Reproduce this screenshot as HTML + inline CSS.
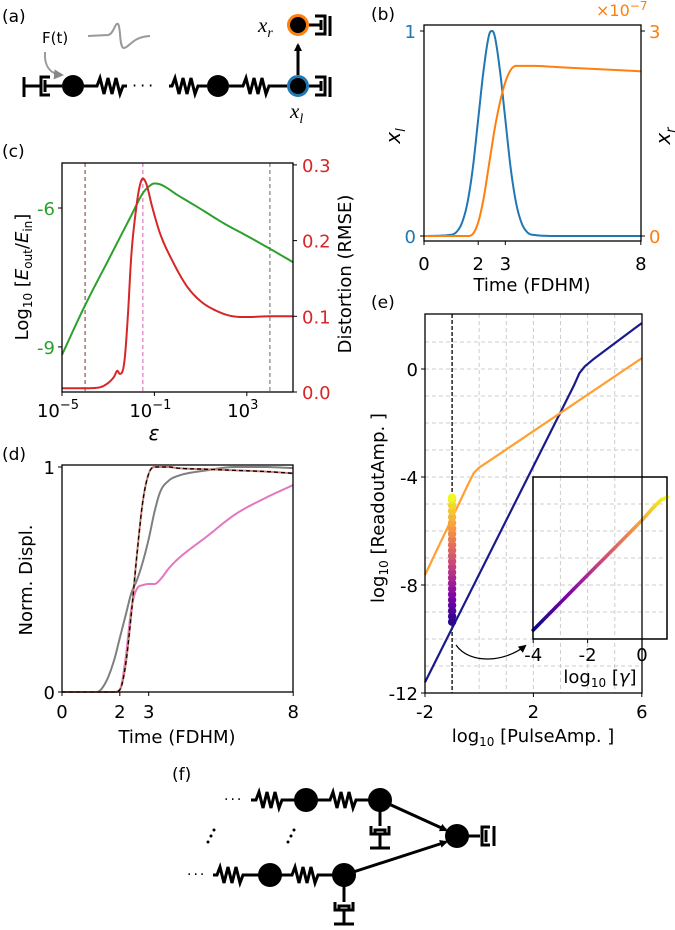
<!DOCTYPE html>
<html><head><meta charset="utf-8">
<style>
html,body{margin:0;padding:0;background:#fff;}
svg{display:block;font-family:"DejaVu Sans","Liberation Sans",sans-serif;}
</style></head>
<body>
<svg id="fig" width="675" height="930" viewBox="0 0 675 930" xmlns="http://www.w3.org/2000/svg">
<defs>
<marker id="ah" markerWidth="8" markerHeight="8" refX="6" refY="4" orient="auto" markerUnits="userSpaceOnUse"><path d="M0,0 L8,4 L0,8 z" fill="#000"/></marker>
<marker id="ahg" markerWidth="10" markerHeight="10" refX="8" refY="5" orient="auto" markerUnits="userSpaceOnUse"><path d="M0,0 L10,5 L0,10 z" fill="#888"/></marker>
</defs>

<!-- ================= PANEL A ================= -->
<g>
<text x="2" y="22" font-size="17">(a)</text>
<text x="42" y="43" font-size="15">F(t)</text>
<path d="M88,36 L108,35 C114,34 115,22 118,24 C121,27 119,48 124,48 C130,47 132,37 150,36" fill="none" stroke="#999" stroke-width="2"/>
<path d="M45,52 C44,66 50,74 62,75" fill="none" stroke="#999" stroke-width="2" marker-end="url(#ahg)"/>
<g stroke="#000" stroke-width="3" fill="none">
<path d="M24,77 V97 M24,86 H40 M50,77 H41 V95 H50 M45,80 V92 M45,86 H62"/>
<path d="M84,86 H97 L100,78 L104,94 L108,78 L112,94 L116,78 L120,94 L123,86 H127"/>
<path d="M169,86 H172 L175,78 L179,94 L183,78 L187,94 L191,78 L195,94 L198,86 H207"/>
<path d="M229,86 H243 L246,78 L250,94 L254,78 L258,94 L262,78 L266,94 L269,86 H287"/>
<path d="M309,86 H321 M315,77 H325 V95 H315 M321,81 V91 M330,77 V97"/>
<path d="M309,25 H321 M315,16 H325 V34 H315 M321,20 V30 M330,16 V36"/>
<path d="M298,75 V45" marker-end="url(#ah)"/>
</g>
<text x="132" y="91" font-size="16" letter-spacing="3">···</text>
<circle cx="73" cy="86" r="11" fill="#000"/>
<circle cx="218" cy="86" r="11" fill="#000"/>
<circle cx="298" cy="86" r="9.5" fill="#000" stroke="#1f77b4" stroke-width="3"/>
<circle cx="298" cy="25" r="9.5" fill="#000" stroke="#ff7f0e" stroke-width="3"/>
<text x="258" y="32" style="font-size:21px;font-family:'Liberation Serif',serif;font-style:italic">x<tspan style="font-size:14px" dy="5">r</tspan></text>
<text x="290" y="118" style="font-size:21px;font-family:'Liberation Serif',serif;font-style:italic">x<tspan style="font-size:14px" dy="5">l</tspan></text>
</g>

<!-- ================= PANEL F ================= -->
<g>
<text x="172" y="780" font-size="17">(f)</text>
<text x="224" y="804" font-size="14" letter-spacing="2">···</text>
<text x="187" y="879" font-size="14" letter-spacing="2">···</text>
<g fill="#000">
<circle cx="208" cy="842" r="1.5"/><circle cx="211" cy="836" r="1.5"/><circle cx="214" cy="830" r="1.5"/>
<circle cx="288" cy="842" r="1.5"/><circle cx="291" cy="836" r="1.5"/><circle cx="294" cy="830" r="1.5"/>
</g>
<g stroke="#000" stroke-width="3" fill="none">
<path d="M251,800 H256 L259,792 L263,808 L267,792 L271,808 L275,792 L279,808 L282,800 H300"/>
<path d="M312,800 H330 L333,792 L337,808 L341,792 L345,808 L349,792 L353,808 L356,800 H372"/>
<path d="M380,800 V826 M371,826 V834 H389 V826 M375,834 V830 H385 V834 M380,834 V848 M370,848 H390"/>
<path d="M213,875 H217 L220,867 L224,883 L228,867 L232,883 L236,867 L240,883 L243,875 H262"/>
<path d="M276,875 H292 L295,867 L299,883 L303,867 L307,883 L311,867 L315,883 L318,875 H336"/>
<path d="M344,875 V902 M335,902 V910 H353 V902 M339,910 V906 H349 V910 M344,910 V924 M334,924 H354"/>
<path d="M380,800 L446,830" marker-end="url(#ah)"/>
<path d="M344,875 L446,842" marker-end="url(#ah)"/>
<path d="M462,836 H480 M490,827 H482 V845 H490 M486,830 V842 M494,826 V846"/>
</g>
<circle cx="306" cy="800" r="12" fill="#000"/>
<circle cx="380" cy="800" r="12" fill="#000"/>
<circle cx="270" cy="875" r="12" fill="#000"/>
<circle cx="344" cy="875" r="12" fill="#000"/>
<circle cx="457" cy="836" r="12" fill="#000"/>
</g>

<g id="charts"></g>
</svg>

<script>
// ---------- data: panel b ----------
const tB = [0,1,1.2,1.4,1.6,1.8,2.0,2.2,2.4,2.5,2.6,2.8,3.0,3.2,3.4,3.6,3.8,4,5,8];
const xlB = [0,0.006,0.02,0.064,0.16,0.33,0.57,0.81,0.98,1,0.98,0.81,0.57,0.33,0.16,0.064,0.02,0.006,0,0];
const xrB = [0,0,0,0,0,0.03,0.2,0.55,1.05,1.3,1.55,1.95,2.25,2.43,2.49,2.49,2.49,2.49,2.47,2.41];
const ticksBx = [0,2,3,8];
// ---------- data: panel c ----------
const epsG = [-5,-4,-3,-2,-1.5,-1.2,-1,-0.7,0,1,2,3,4,5];
const energyG = [-9.17,-8.1,-7.13,-6.16,-5.68,-5.52,-5.47,-5.5,-5.72,-6.02,-6.33,-6.6,-6.88,-7.17];
const epsR = [-5,-4,-3.4,-3,-2.75,-2.6,-2.5,-2.3,-2.15,-2.0,-1.8,-1.65,-1.5,-1.35,-1.1,-0.75,-0.2,0.4,1,1.7,2.4,3,4,5];
const rmseR = [0.005,0.005,0.006,0.012,0.02,0.028,0.024,0.04,0.1,0.18,0.24,0.27,0.282,0.275,0.245,0.209,0.172,0.14,0.12,0.107,0.1,0.099,0.1,0.1];
const markersC = [-4,-1.5,4];
// ---------- data: panel d ----------
const tD = [0,1,1.2,1.5,1.8,2.0,2.2,2.4,2.6,2.8,3.0,3.2,3.4,3.7,4,5,6,7,8];
const blackD = [0,0,0,0,0,0.01,0.12,0.35,0.62,0.85,0.97,1,1,1,0.995,0.99,0.985,0.98,0.972];
const grayD = [0,0,0,0.04,0.14,0.24,0.34,0.44,0.5,0.58,0.68,0.8,0.89,0.94,0.96,0.985,1,1,0.995];
const pinkD = [0,0,0,0,0,0.01,0.15,0.37,0.46,0.475,0.48,0.48,0.5,0.55,0.59,0.69,0.79,0.86,0.92];
// ---------- data: panel e ----------
const pulseO = [-2,-0.4,-0.2,0,0.3,6];
const readO = [-7.63,-4.25,-3.85,-3.65,-3.45,0.4];
const pulseB = [-2,3.5,3.7,3.9,4.2,6];
const readB = [-11.6,-0.6,-0.15,0.1,0.35,1.7];
const gammaI = [-4,-3,-2,-1,0,0.4,0.7,0.93];
const readI = [-9.67,-8.65,-7.63,-6.62,-5.6,-5.15,-4.85,-4.75];
const ticksEy = [0,-4,-8,-12];
const ticksEx = [-2,2,6];
const ticksIx = [-4,-2,0];

const NS = "http://www.w3.org/2000/svg";
const root = document.getElementById('charts');
function el(tag, attrs, parent){
  const e = document.createElementNS(NS, tag);
  for (const k in attrs) e.setAttribute(k, attrs[k]);
  (parent||root).appendChild(e);
  return e;
}
function txt(s, x, y, size, anchor, fill, name, rot){
  const t = el('text', {x:x, y:y, 'font-size':size, 'text-anchor':anchor||'start', fill:fill||'#000'});
  if (rot) t.setAttribute('transform', 'rotate(-90 '+x+' '+y+')');
  t.textContent = s;
  
  
  return t;
}
// monotone cubic (Fritsch-Carlson) resampling for smooth curves
function smooth(xs, ys){
  const n = xs.length, d = [], m = [];
  for (let i=0;i<n-1;i++) d.push((ys[i+1]-ys[i])/(xs[i+1]-xs[i]));
  m[0]=d[0]; m[n-1]=d[n-2];
  for (let i=1;i<n-1;i++) m[i] = (d[i-1]*d[i] <= 0) ? 0 : (d[i-1]+d[i])/2;
  for (let i=0;i<n-1;i++){
    if (d[i]===0){ m[i]=0; m[i+1]=0; continue; }
    const a=m[i]/d[i], b=m[i+1]/d[i], s=a*a+b*b;
    if (s>9){ const t=3/Math.sqrt(s); m[i]=t*a*d[i]; m[i+1]=t*b*d[i]; }
  }
  const ox=[], oy=[];
  for (let i=0;i<n-1;i++){
    const h=xs[i+1]-xs[i], N=16;
    for (let k=0;k<N;k++){
      const u=k/N, h00=2*u*u*u-3*u*u+1, h10=u*u*u-2*u*u+u, h01=-2*u*u*u+3*u*u, h11=u*u*u-u*u;
      ox.push(xs[i]+u*h); oy.push(h00*ys[i]+h10*h*m[i]+h01*ys[i+1]+h11*h*m[i+1]);
    }
  }
  ox.push(xs[n-1]); oy.push(ys[n-1]);
  return [ox, oy];
}
function plot(xs, ys, sx, sy, color, w, name, dash, raw){
  let px = xs, py = ys;
  if (!raw){ const r = smooth(xs, ys); px = r[0]; py = r[1]; }
  let d = '';
  for (let i=0;i<px.length;i++) d += (i?'L':'M') + sx(px[i]).toFixed(2) + ',' + sy(py[i]).toFixed(2);
  const p = el('path', {d:d, fill:'none', stroke:color, 'stroke-width':w, 'stroke-linejoin':'round'});
  if (dash) p.setAttribute('stroke-dasharray', dash);
  
  
  return p;
}
function frame(x0,y0,x1,y1,name){
  const r = el('rect', {x:x0, y:y0, width:x1-x0, height:y1-y0, fill:'none', stroke:'#000', 'stroke-width':1.3});
  
  
}
function tick(x1,y1,x2,y2,color){
  const l = el('line', {x1:x1,y1:y1,x2:x2,y2:y2,stroke:color||'#000','stroke-width':1});
  
  
}
function plasma(f){
  const st=[[13,8,135],[126,3,168],[204,71,120],[248,149,64],[240,249,33]];
  f=Math.max(0,Math.min(1,f))*4; const i=Math.min(3,Math.floor(f)), u=f-i;
  const c=st[i].map((v,k)=>Math.round(v+(st[i+1][k]-v)*u));
  return 'rgb('+c.join(',')+')';
}
function interp(xs, ys, x){
  for (let i=0;i<xs.length-1;i++) if (x<=xs[i+1]) { const u=(x-xs[i])/(xs[i+1]-xs[i]); return ys[i]+u*(ys[i+1]-ys[i]); }
  return ys[ys.length-1];
}

// ================= PANEL B =================
const sxB = t => 424 + t*27.1;
const syBl = v => 236 - v*205;
const syBr = v => 236 - v/3*205;
txt('(b)', 371, 20, 17, 'start', '#000', 'panel-b-label');
plot(tB, xlB, sxB, syBl, '#1f77b4', 2, 'xl-series');
plot(tB, xrB, sxB, syBr, '#ff7f0e', 2, 'xr-series');
frame(424,25,641,241,'panel-b-frame');
for (const v of ticksBx){ tick(sxB(v),241,sxB(v),245); txt(String(v), sxB(v), 270, 18, 'middle', '#000', 'b-x-tick-label'); }
tick(420,syBl(1),424,syBl(1),'#000'); tick(420,syBl(0),424,syBl(0),'#000');
txt('1', 416, syBl(1)+7, 18, 'end', '#1f77b4', 'b-left-tick-label');
txt('0', 416, syBl(0)+7, 18, 'end', '#1f77b4', 'b-left-tick-label');
tick(641,syBr(3),645,syBr(3)); tick(641,syBr(0),645,syBr(0));
txt('3', 649, syBr(3)+7, 18, 'start', '#ff7f0e', 'b-right-tick-label');
txt('0', 649, syBr(0)+7, 18, 'start', '#ff7f0e', 'b-right-tick-label');
{ const t = txt('×10', 596, 16, 16, 'start', '#ff7f0e', 'b-offset-label');
  const s = el('tspan', {dy:-6, 'font-size':12}, t); s.textContent='−7'; }
txt('Time (FDHM)', 532, 291, 18, 'middle', '#000', 'b-x-axis-title');
{ const t = txt('x', 400, 136, 20, 'middle', '#000', 'b-left-axis-title', true); t.setAttribute('font-style','italic');
  const s = el('tspan', {dy:5,'font-size':13}, t); s.textContent='l'; }
{ const t = txt('x', 670, 136, 20, 'middle', '#000', 'b-right-axis-title', true); t.setAttribute('font-style','italic');
  const s = el('tspan', {dy:5,'font-size':13}, t); s.textContent='r'; }

// ================= PANEL C =================
const sxC = l => 62 + (l+5)*23.1;
const syCg = v => 208 - (v+6)*46.3;
const syCr = v => 392 - v*757;
txt('(c)', 2, 157, 17, 'start', '#000', 'panel-c-label');
const mcol = ['#8c564b','#e377c2','#7f7f7f'];
markersC.forEach((m,i)=>{ const l = el('line',{x1:sxC(m),y1:163,x2:sxC(m),y2:392,stroke:mcol[i],'stroke-width':1.2,'stroke-dasharray':'4,3'});
    });
plot(epsG, energyG, sxC, syCg, '#2ca02c', 2, 'energy-ratio-series');
plot(epsR, rmseR, sxC, syCr, '#d62728', 2, 'distortion-series');
frame(62,163,293,392,'panel-c-frame');
[[-6,'-6'],[-9,'-9']].forEach(([v,s])=>{ tick(58,syCg(v),62,syCg(v)); txt(s, 55, syCg(v)+7, 18, 'end', '#2ca02c', 'c-left-tick-label'); });
[[0.3,'0.3'],[0.2,'0.2'],[0.1,'0.1'],[0,'0.0']].forEach(([v,s])=>{ tick(293,syCr(v),297,syCr(v)); txt(s, 302, syCr(v)+7, 18, 'start', '#d62728', 'c-right-tick-label'); });
[[-5,'−5'],[-1,'−1'],[3,'3']].forEach(([v,s])=>{ tick(sxC(v),392,sxC(v),396);
  const t = txt('10', sxC(v)-4, 417, 18, 'middle', '#000', 'c-x-tick-label'); const sp = el('tspan',{dy:-8,'font-size':13},t); sp.textContent=s; });
{ const t = txt('ε', 154, 440, 20, 'middle', '#000', 'c-x-axis-title'); t.setAttribute('font-style','italic'); }
{ const t = txt('Log', 28, 277, 18, 'middle', '#000', 'c-left-axis-title', true);
  const a = el('tspan',{dy:4,'font-size':12},t); a.textContent='10';
  const b = el('tspan',{dy:-4},t); b.textContent=' [';
  const c = el('tspan',{'font-style':'italic'},t); c.textContent='E';
  const d = el('tspan',{dy:4,'font-size':12},t); d.textContent='out';
  const e = el('tspan',{dy:-4},t); e.textContent='/';
  const f = el('tspan',{'font-style':'italic'},t); f.textContent='E';
  const g = el('tspan',{dy:4,'font-size':12},t); g.textContent='in';
  const h = el('tspan',{dy:-4},t); h.textContent=']'; }
txt('Distortion (RMSE)', 351, 274, 18, 'middle', '#000', 'c-right-axis-title', true);

// ================= PANEL D =================
const sxD = t => 62 + t*28.9;
const syD = v => 692 - v*225;
txt('(d)', 2, 460, 17, 'start', '#000', 'panel-d-label');
plot(tD, grayD, sxD, syD, '#7f7f7f', 2, 'gray-series');
plot(tD, pinkD, sxD, syD, '#e377c2', 2, 'pink-series');
plot(tD, blackD, sxD, syD, '#d08070', 2, 'reference-series');
plot(tD, blackD, sxD, syD, '#000', 1.3, 'black-dashed-series', '4,3');
frame(62,465,293,692,'panel-d-frame');
[[1,'1'],[0,'0']].forEach(([v,s])=>{ tick(58,syD(v),62,syD(v)); txt(s, 55, syD(v)+7, 18, 'end', '#000', 'd-y-tick-label'); });
ticksBx.forEach(v=>{ tick(sxD(v),692,sxD(v),696); txt(String(v), sxD(v), 718, 18, 'middle', '#000', 'd-x-tick-label'); });
txt('Time (FDHM)', 177, 743, 18, 'middle', '#000', 'd-x-axis-title');
txt('Norm. Displ.', 32, 580, 18, 'middle', '#000', 'd-y-axis-title', true);

// ================= PANEL E =================
const sxE = x => 425 + (x+2)*27.1;
const syE = y => 369 - y*27;
const sxI = x => 642 + x*27.2;
txt('(e)', 371, 308, 17, 'start', '#000', 'panel-e-label');
for (let g=0; g<=5; g++){ const l=el('line',{x1:sxE(g),y1:314,x2:sxE(g),y2:693,stroke:'#ccc','stroke-width':1,'stroke-dasharray':'4,3'});   }
for (let g=-11; g<=1; g++){ const l=el('line',{x1:425,y1:syE(g),x2:642,y2:syE(g),stroke:'#ccc','stroke-width':1,'stroke-dasharray':'4,3'});   }
{ const l=el('line',{x1:sxE(-1),y1:314,x2:sxE(-1),y2:693,stroke:'#000','stroke-width':1.3,'stroke-dasharray':'4,2'});   }
plot(pulseB, readB, sxE, syE, '#1a1a8a', 2.2, 'blue-readout-series', null, true);
plot(pulseO, readO, sxE, syE, '#ffa033', 2.2, 'orange-readout-series', null, true);
for (let g=-3.7; g<=0.93; g+=0.2){
  const c = el('circle',{cx:sxE(-1),cy:syE(interp(gammaI, readI, g)),r:4.2,fill:plasma((g+4)/4.93)});
   
}
// inset
{ const r = el('rect',{x:533,y:477,width:134,height:162,fill:'#fff',stroke:'#000','stroke-width':1.3});   }
for (let g=-3; g<=0; g++){ const l=el('line',{x1:sxI(g),y1:477,x2:sxI(g),y2:639,stroke:'#ccc','stroke-width':1,'stroke-dasharray':'4,3'});   }
for (let g=-9; g<=-5; g++){ const l=el('line',{x1:533,y1:syE(g),x2:667,y2:syE(g),stroke:'#ccc','stroke-width':1,'stroke-dasharray':'4,3'});   }
{ const l=el('line',{x1:sxI(0),y1:477,x2:sxI(0),y2:639,stroke:'#000','stroke-width':1,'stroke-dasharray':'3,2'});   }
for (let i=0;i<gammaI.length-1;i++){
  const n=6;
  for (let k=0;k<n;k++){
    const a=gammaI[i]+(gammaI[i+1]-gammaI[i])*k/n, b=gammaI[i]+(gammaI[i+1]-gammaI[i])*(k+1)/n;
    const s=el('line',{x1:sxI(a),y1:syE(interp(gammaI,readI,a)),x2:sxI(b),y2:syE(interp(gammaI,readI,b)),stroke:plasma((a+4)/4.93),'stroke-width':3.5,'stroke-linecap':'round'});
     
  }
}
{ const r = el('rect',{x:533,y:477,width:134,height:162,fill:'none',stroke:'#000','stroke-width':1.3});   }
ticksIx.forEach(v=>{ tick(sxI(v),639,sxI(v),643); txt(v===0?'0':'-'+Math.abs(v), sxI(v), 661, 18, 'middle', '#000', 'inset-x-tick-label'); });
{ const t = txt('log', 600, 683, 18, 'middle', '#000', 'inset-x-axis-title'); const a=el('tspan',{dy:4,'font-size':12},t); a.textContent='10'; const b=el('tspan',{dy:-4},t); b.textContent=' ['; const c=el('tspan',{'font-style':'italic'},t); c.textContent='γ'; const d=el('tspan',{},t); d.textContent=']'; }
{ const p = el('path',{d:'M456,645 C470,665 505,662 525,646',fill:'none',stroke:'#000','stroke-width':1.2,'marker-end':'url(#ah)'});   }
frame(425,314,642,693,'panel-e-frame');
ticksEy.forEach(v=>{ tick(421,syE(v),425,syE(v)); txt(String(v), 418, syE(v)+7, 18, 'end', '#000', 'e-y-tick-label'); });
ticksEx.forEach(v=>{ tick(sxE(v),693,sxE(v),697); txt(String(v), sxE(v), 718, 18, 'middle', '#000', 'e-x-tick-label'); });
{ const t = txt('log', 533, 742, 18, 'middle', '#000', 'e-x-axis-title'); const a=el('tspan',{dy:4,'font-size':12},t); a.textContent='10'; const b=el('tspan',{dy:-4},t); b.textContent=' [PulseAmp. ]'; }
{ const t = txt('log', 384, 508, 18, 'middle', '#000', 'e-y-axis-title', true); const a=el('tspan',{dy:4,'font-size':12},t); a.textContent='10'; const b=el('tspan',{dy:-4},t); b.textContent=' [ReadoutAmp. ]'; }
</script>
</body></html>
